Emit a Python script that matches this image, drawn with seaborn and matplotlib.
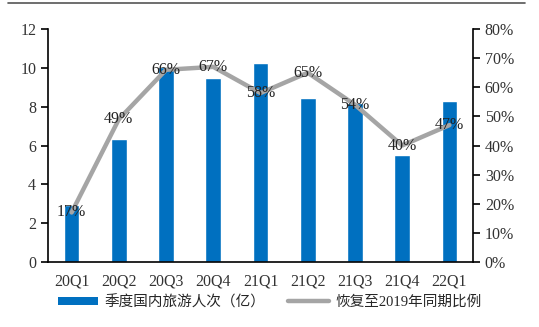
import numpy as np
import pandas as pd
import matplotlib
matplotlib.use("Agg")
import matplotlib.pyplot as plt
from matplotlib.lines import Line2D
from matplotlib.patches import Patch
import seaborn as sns

quarters = ["20Q1", "20Q2", "20Q3", "20Q4", "21Q1", "21Q2", "21Q3", "21Q4", "22Q1"]
trips = [2.95, 6.34, 10.02, 9.48, 10.24, 8.45, 8.20, 5.52, 8.30]
recovery = [17, 49, 66, 67, 58, 65, 54, 40, 47]
bar_name = "季度国内旅游人次（亿）"
line_name = "恢复至2019年同期比例"

sns.set_style("white")
plt.rcParams['font.family'] = ['Liberation Serif', 'Noto Sans CJK SC', 'DejaVu Sans']

fig = plt.figure(figsize=(5.39, 3.27), dpi=100)
ax = fig.add_axes([48/539, 65/327, (473-48)/539, (262-29)/327])

df = pd.DataFrame({"q": quarters, "v": trips})
sns.barplot(data=df, x="q", y="v", color="#0070C0", saturation=1, width=0.33, ax=ax)
ax.set_xlim(-0.5, len(quarters) - 0.5)
ax.set_ylim(0, 12)
ax.set_yticks(np.arange(0, 13, 2))
ax.set_xlabel("")
ax.set_ylabel("")
ax.set_xticks(np.arange(len(quarters)))
ax.set_xticklabels(quarters)
ax.tick_params(axis="x", length=0, labelsize=11.5, pad=8, colors="#333333")
ax.set_xticks(np.arange(-0.5, len(quarters), 1), minor=True)
ax.tick_params(axis="x", which="minor", length=5, width=1.2, direction="out", color="black")
ax.tick_params(axis="y", length=5, width=1.2, direction="out", labelsize=11.5, colors="#333333", color="black")
for s in ["top", "right"]:
    ax.spines[s].set_visible(False)
for s in ["left", "bottom"]:
    ax.spines[s].set_color("black")
    ax.spines[s].set_linewidth(1.2)

ax2 = ax.twinx()
x = np.arange(len(quarters))
sns.lineplot(x=x, y=np.array(recovery) / 100, color="#A5A5A5", linewidth=3.2, ax=ax2)
ax2.set_ylim(0, 0.8)
ax2.set_yticks(np.arange(0, 0.81, 0.1))
ax2.set_yticklabels([f"{int(round(v*100))}%" for v in np.arange(0, 0.81, 0.1)])
ax2.tick_params(axis="y", length=5, width=1.2, direction="out", labelsize=11.5, colors="#333333", color="black")
for s in ["top", "left", "bottom"]:
    ax2.spines[s].set_visible(False)
ax2.spines["right"].set_color("black")
ax2.spines["right"].set_linewidth(1.2)
ax2.set_xlim(-0.5, len(quarters) - 0.5)
ax2.set_ylabel("")

for xi, p in zip(x, recovery):
    ax2.text(xi, p / 100, f"{p}%", ha="center", va="center", fontsize=11.5, color="#222222")

handles = [Patch(facecolor="#0070C0", edgecolor="none"),
           Line2D([0], [0], color="#A5A5A5", linewidth=3.2)]
fig.legend(handles, [bar_name, line_name], loc="center", bbox_to_anchor=(0.5, 25/327),
           ncol=2, frameon=False, fontsize=10.5, handlelength=2.8, handleheight=0.5,
           handletextpad=0.4, columnspacing=1.6)

fig.add_artist(Line2D([8/539, 525/539], [1 - 3/327, 1 - 3/327], color="#555555", linewidth=1.2))

fig.savefig("out.png", dpi=100)
